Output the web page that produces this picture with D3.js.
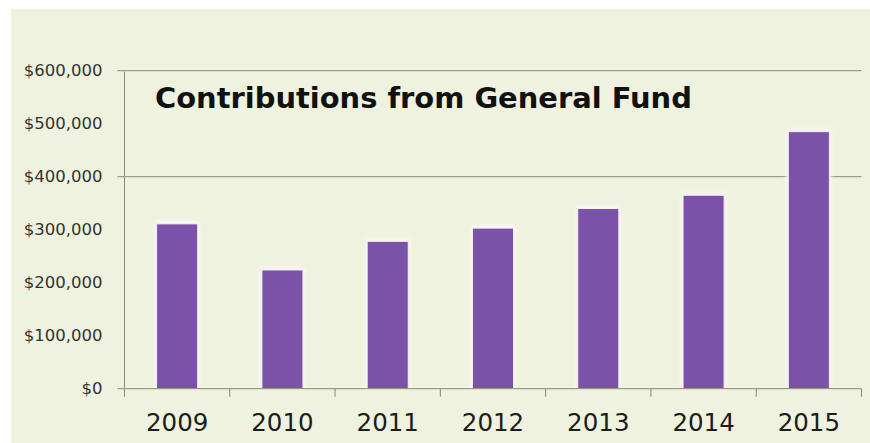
<!DOCTYPE html>
<html>
<head>
<meta charset="utf-8">
<script src="https://cdn.jsdelivr.net/npm/d3@7"></script>
<style>
  html, body { margin: 0; padding: 0; background: #ffffff; }
  svg { display: block; }
</style>
</head>
<body>
<svg id="chart" width="870" height="443"></svg>
<script>
// Yearly contributions from the General Fund
const years = ["2009", "2010", "2011", "2012", "2013", "2014", "2015"];
const contributions = [311000, 224000, 278000, 303000, 340000, 365000, 485000];
const yTicks = [0, 100000, 200000, 300000, 400000, 500000, 600000];
const gridValues = [400000, 600000];
const titleText = "Contributions from General Fund";

const W = 870, H = 443;
const margin = { left: 124.5, right: 8.5, top: 70.7, bottom: 54.3 };

const svg = d3.select("#chart");

// panel background
svg.append("rect")
  .attr("x", 11).attr("y", 9)
  .attr("width", W - 11).attr("height", H - 9)
  .attr("fill", "#eef2de");

const x = d3.scaleBand()
  .domain(years)
  .range([margin.left, W - margin.right])
  .paddingInner(0.61)
  .paddingOuter(0.305);

const y = d3.scaleLinear()
  .domain([0, 600000])
  .range([H - margin.bottom, margin.top]);

// horizontal gridlines
svg.append("g")
  .selectAll("line")
  .data(gridValues)
  .join("line")
  .attr("x1", margin.left - 7)
  .attr("x2", W - margin.right)
  .attr("y1", d => y(d))
  .attr("y2", d => y(d))
  .attr("stroke", "#868a78")
  .attr("stroke-width", 1);

// bars with a soft light rim
const glow = svg.append("defs").append("filter")
  .attr("id", "rim")
  .attr("x", "-20%").attr("y", "-20%").attr("width", "140%").attr("height", "140%");
glow.append("feGaussianBlur").attr("stdDeviation", 2);

svg.append("g")
  .selectAll("rect")
  .data(years)
  .join("rect")
  .attr("x", (d) => x(d) - 2)
  .attr("y", (d, i) => y(contributions[i]) - 3)
  .attr("width", x.bandwidth() + 4)
  .attr("height", (d, i) => y(0) - y(contributions[i]) + 3)
  .attr("fill", "#fbf6f2")
  .attr("filter", "url(#rim)");

svg.append("g")
  .selectAll("rect")
  .data(years)
  .join("rect")
  .attr("x", d => x(d))
  .attr("y", (d, i) => y(contributions[i]))
  .attr("width", x.bandwidth())
  .attr("height", (d, i) => y(0) - y(contributions[i]))
  .attr("fill", "#7a53a9")
  .attr("stroke", "#f4eef6")
  .attr("stroke-width", 1);

// y axis
const yAxis = d3.axisLeft(y)
  .tickValues(yTicks)
  .tickSize(0)
  .tickPadding(22)
  .tickFormat(d => "$" + d3.format(",")(d));

const gy = svg.append("g")
  .attr("transform", `translate(${margin.left},0)`)
  .call(yAxis);
gy.select(".domain").remove();
gy.selectAll("text")
  .attr("fill", "#333")
  .style("font-family", "'DejaVu Sans', Verdana, sans-serif")
  .style("font-size", "16.5px");

svg.append("line")
  .attr("x1", margin.left).attr("x2", margin.left)
  .attr("y1", y(600000) + 1).attr("y2", y(0) + 8)
  .attr("stroke", "#868a78");
svg.append("line")
  .attr("x1", margin.left - 7).attr("x2", margin.left)
  .attr("y1", y(0)).attr("y2", y(0))
  .attr("stroke", "#868a78");

// x axis
const xAxis = d3.axisBottom(x).tickSize(0).tickPadding(25);
const gx = svg.append("g")
  .attr("transform", `translate(0,${y(0)})`)
  .call(xAxis);
gx.select(".domain").remove();
gx.selectAll("text")
  .attr("fill", "#1c1c1c")
  .style("font-family", "'DejaVu Sans', Verdana, sans-serif")
  .style("font-size", "24.5px");

svg.append("line")
  .attr("x1", margin.left).attr("x2", W - margin.right)
  .attr("y1", y(0)).attr("y2", y(0))
  .attr("stroke", "#868a78");

// category separators
const step = x.step();
svg.append("g")
  .selectAll("line")
  .data(years)
  .join("line")
  .attr("x1", d => x(d) - x.paddingOuter() * step + step)
  .attr("x2", d => x(d) - x.paddingOuter() * step + step)
  .attr("y1", y(0))
  .attr("y2", y(0) + 8)
  .attr("stroke", "#868a78");

// title
const title = svg.append("text")
  .attr("x", 155)
  .attr("y", 108)
  .attr("fill", "#111")
  .style("font-family", "'DejaVu Sans', Verdana, sans-serif")
  .style("font-weight", "bold")
  .style("font-size", "25px")
  .text(titleText);
const tw = title.node().getComputedTextLength();
title.style("font-size", (25 * 537 / tw).toFixed(2) + "px");
</script>
</body>
</html>
